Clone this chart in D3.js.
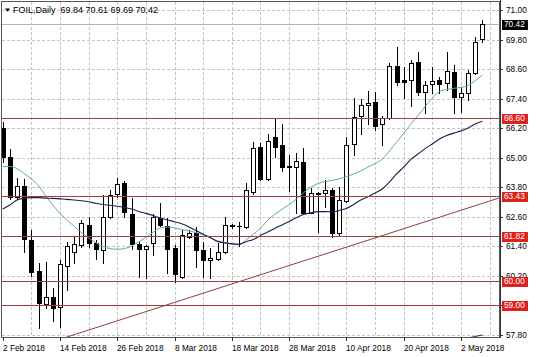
<!DOCTYPE html>
<html>
<head>
<meta charset="utf-8">
<script src="https://cdn.jsdelivr.net/npm/d3@7"></script>
<style>
  html, body { margin: 0; padding: 0; background: #fff; }
  svg { display: block; }
  text { font-family: "Liberation Sans", Arial, sans-serif; }
</style>
</head>
<body>
<div id="chart"></div>
<script>
// ---------------- DATA ----------------
const symbolTitle = "FOIL,Daily";
const headerValues = ["69.84", "70.61", "69.69", "70.42"];

const openP  = [66.21,65.04,63.39,63.85,61.66,60.41,59.06,59.33,58.92,60.60,61.18,61.45,62.27,61.55,61.25,62.58,63.53,63.99,62.71,61.50,61.28,61.52,62.54,62.23,61.32,60.17,61.79,61.93,61.25,60.85,60.87,61.18,62.25,62.24,62.20,63.62,65.45,64.12,65.83,65.52,64.65,64.61,64.84,62.77,63.56,63.58,63.69,61.93,63.24,65.56,66.69,67.14,67.28,66.37,66.60,68.73,68.16,68.16,68.90,67.68,67.99,68.16,68.02,68.49,67.45,67.64,68.43,69.84];
const highP  = [66.45,65.34,64.16,64.12,62.06,60.71,60.78,59.70,60.85,61.59,61.79,62.47,62.60,61.66,63.49,63.69,64.16,64.07,63.35,61.59,61.45,62.71,63.17,62.54,61.45,62.06,62.06,62.17,61.59,61.33,61.52,62.58,62.31,62.40,63.96,65.65,65.61,65.96,66.56,66.37,65.11,65.20,65.38,63.76,63.62,64.10,63.76,63.82,65.84,67.41,67.37,67.72,67.68,66.69,68.84,69.51,68.67,68.97,69.31,68.13,68.70,68.29,69.31,68.77,67.86,68.56,69.89,70.61];
const lowP   = [64.83,63.32,63.32,61.18,60.21,58.07,58.90,58.38,58.14,59.63,60.71,61.37,61.39,60.87,60.74,62.54,63.42,62.58,61.28,60.14,60.10,61.05,62.23,60.31,59.96,60.10,61.75,60.57,60.17,60.10,60.85,61.12,62.15,61.40,62.13,63.53,64.10,64.10,65.02,64.47,63.66,62.74,62.74,62.74,62.00,63.01,61.77,61.86,63.20,65.11,65.96,66.37,66.13,65.52,66.56,67.95,67.41,67.10,67.55,66.80,67.62,67.62,67.75,66.83,66.87,67.34,68.40,69.69];
const closeP = [65.03,63.39,63.85,61.69,60.37,59.09,59.33,58.88,60.68,61.41,61.48,62.34,61.52,61.28,62.58,63.49,63.93,62.81,61.50,61.28,61.41,62.58,62.27,61.28,60.28,61.86,61.93,61.25,60.85,60.94,61.18,62.27,62.23,62.22,63.69,65.38,64.12,65.69,65.45,64.61,64.62,64.88,62.77,63.55,63.54,63.69,61.93,63.28,65.52,66.67,67.14,67.23,66.29,66.60,68.73,68.09,68.09,68.86,67.68,67.95,68.13,67.99,68.53,67.45,67.64,68.45,69.71,70.42];

// fast moving average (teal), one value per bar
const maFast = [64.64,64.64,64.56,64.36,64.14,63.87,63.45,63.08,62.74,62.46,62.21,61.96,61.74,61.55,61.39,61.31,61.28,61.31,61.41,61.58,61.77,61.97,62.15,62.19,62.15,62.08,62.03,61.96,61.88,61.74,61.63,61.56,61.50,61.47,61.67,61.89,62.14,62.46,62.70,62.91,63.09,63.32,63.57,63.80,63.95,64.03,64.08,64.14,64.23,64.34,64.46,64.62,64.76,64.94,65.27,65.63,65.99,66.37,66.71,67.08,67.42,67.69,67.77,67.82,67.86,67.93,68.13,68.36];
// slow moving average (navy), one value per bar
const maSlow = [62.92,63.08,63.28,63.36,63.38,63.38,63.36,63.35,63.33,63.31,63.28,63.25,63.21,63.15,63.10,63.07,63.03,62.98,62.92,62.82,62.74,62.65,62.55,62.47,62.40,62.32,62.19,62.04,61.89,61.76,61.60,61.54,61.50,61.48,61.59,61.68,61.84,61.98,62.13,62.27,62.41,62.56,62.69,62.76,62.81,62.81,62.80,62.86,62.94,63.10,63.28,63.41,63.57,63.73,64.01,64.34,64.62,64.93,65.15,65.37,65.56,65.76,65.90,66.00,66.09,66.21,66.37,66.48];

const dateTickIndex = [0, 8, 16, 24, 32, 40, 48, 56, 64];
const dateTickLabels = ["2 Feb 2018","14 Feb 2018","26 Feb 2018","8 Mar 2018","18 Mar 2018","28 Mar 2018","10 Apr 2018","20 Apr 2018","2 May 2018"];
const priceTicks = [71.00, 69.80, 68.60, 67.40, 66.20, 65.00, 63.80, 62.60, 61.40, 60.20, 59.00, 57.80];
const levelPrices = [66.60, 63.43, 61.82, 60.00, 59.00];
const lastPrice = 70.42;
// trend line anchor points (bar index, price)
const trendIdx = [8.46, 69.18];
const trendPrice = [57.67, 63.35];
// short indicator fragment at bottom right
const tailIdx = [65.3, 67.0];
const tailPrice = [57.70, 57.80];

// ---------------- LAYOUT ----------------
const W = 536, H = 357;
const L = 2, R = 500, T = 2, B = 337;

const x = d3.scaleLinear().domain([0, 67]).range([2.7, 482.42]);
const y = d3.scaleLinear().domain([57.8, 71.0]).range([335, 10]);

const svg = d3.select("#chart").append("svg")
  .attr("width", W).attr("height", H)
  .attr("shape-rendering", "crispEdges");

svg.append("defs").append("clipPath").attr("id", "plotclip")
  .append("rect").attr("x", L).attr("y", T).attr("width", R - L).attr("height", B - T);

const plot = svg.append("g").attr("clip-path", "url(#plotclip)");

// grid
const gridIdx = d3.range(4, 70, 4);
plot.selectAll("line.vg").data(gridIdx).enter().append("line")
  .attr("x1", d => Math.round(x(d)) + 0.5).attr("x2", d => Math.round(x(d)) + 0.5)
  .attr("y1", T).attr("y2", B)
  .attr("stroke", "#c4c4c4").attr("stroke-dasharray", "3,2");
plot.selectAll("line.hg").data(priceTicks).enter().append("line")
  .attr("x1", L).attr("x2", R)
  .attr("y1", d => Math.round(y(d)) + 0.5).attr("y2", d => Math.round(y(d)) + 0.5)
  .attr("stroke", "#c4c4c4").attr("stroke-dasharray", "3,2");

// last price line
plot.append("line")
  .attr("x1", L).attr("x2", R)
  .attr("y1", Math.round(y(lastPrice)) + 0.5).attr("y2", Math.round(y(lastPrice)) + 0.5)
  .attr("stroke", "#b4b4b4");

// candles
const bars = d3.range(openP.length).map(i => ({i, o: openP[i], h: highP[i], l: lowP[i], c: closeP[i]}));
const cg = plot.append("g");
bars.forEach(d => {
  const cx = Math.round(x(d.i));
  cg.append("line")
    .attr("x1", cx + 0.5).attr("x2", cx + 0.5)
    .attr("y1", Math.round(y(d.h))).attr("y2", Math.round(y(d.l)) + 1)
    .attr("stroke", "#000");
  const yTop = Math.round(y(Math.max(d.o, d.c)));
  const yBot = Math.round(y(Math.min(d.o, d.c)));
  if (yBot - yTop < 1) {
    cg.append("line")
      .attr("x1", cx - 2).attr("x2", cx + 3)
      .attr("y1", yTop + 0.5).attr("y2", yTop + 0.5)
      .attr("stroke", "#000");
  } else {
    cg.append("rect")
      .attr("x", cx - 1.5).attr("y", yTop + 0.5)
      .attr("width", 4).attr("height", yBot - yTop)
      .attr("fill", d.c >= d.o ? "#fff" : "#000")
      .attr("stroke", "#000");
  }
});

// moving averages
const lineGen = d3.line().x((d, i) => x(i)).y(d => y(d)).curve(d3.curveMonotoneX);
plot.append("path").datum(maFast).attr("d", lineGen)
  .attr("fill", "none").attr("stroke", "#5fa9ad").attr("stroke-width", 1)
  .attr("shape-rendering", "geometricPrecision");
plot.append("path").datum(maSlow).attr("d", lineGen)
  .attr("fill", "none").attr("stroke", "#1b1f4f").attr("stroke-width", 1.1)
  .attr("shape-rendering", "geometricPrecision");

// horizontal levels
plot.selectAll("line.lvl").data(levelPrices).enter().append("line")
  .attr("x1", L).attr("x2", R)
  .attr("y1", d => Math.round(y(d)) + 0.5).attr("y2", d => Math.round(y(d)) + 0.5)
  .attr("stroke", "#a3403f");

// trend line (extended across plot)
const slope = (trendPrice[1] - trendPrice[0]) / (trendIdx[1] - trendIdx[0]);
const tStart = trendIdx[0], tEnd = 70;
plot.append("line")
  .attr("x1", x(tStart)).attr("y1", y(trendPrice[0]))
  .attr("x2", x(tEnd)).attr("y2", y(trendPrice[0] + slope * (tEnd - tStart)))
  .attr("stroke", "#963848").attr("stroke-width", 1)
  .attr("shape-rendering", "geometricPrecision");

// tail fragment
plot.append("line")
  .attr("x1", x(tailIdx[0])).attr("y1", y(tailPrice[0]))
  .attr("x2", x(tailIdx[1])).attr("y2", y(tailPrice[1]))
  .attr("stroke", "#333").attr("shape-rendering", "geometricPrecision");

// frame
svg.append("rect").attr("x", 1.5).attr("y", 1.5).attr("width", R - 1.5 + 0.5 - 1).attr("height", B - 1.5)
  .attr("fill", "none").attr("stroke", "#555");
svg.append("line").attr("x1", R + 0.5).attr("x2", R + 0.5).attr("y1", 0).attr("y2", B + 1)
  .attr("stroke", "#333");

// right axis ticks & labels (labels hidden behind a level box are skipped)
const ay = svg.append("g");
priceTicks.forEach(p => {
  const yy = Math.round(y(p)) + 0.5;
  ay.append("line").attr("x1", R).attr("x2", R + 3).attr("y1", yy).attr("y2", yy).attr("stroke", "#333");
  if (levelPrices.some(lv => Math.abs(y(lv) - y(p)) < 3)) return;
  ay.append("text").attr("x", 506).attr("y", yy).attr("dy", "0.35em")
    .attr("font-size", "8.3px").attr("fill", "#000").text(p.toFixed(2));
});

// level labels
levelPrices.forEach(p => {
  const yy = Math.round(y(p));
  ay.append("rect").attr("x", 502).attr("y", yy - 4.5).attr("width", 26).attr("height", 10).attr("fill", "#e0201c");
  ay.append("text").attr("x", 504).attr("y", yy + 0.5).attr("dy", "0.35em")
    .attr("font-size", "8.3px").attr("fill", "#fff").text(p.toFixed(2));
});
{
  const yy = Math.round(y(lastPrice));
  ay.append("rect").attr("x", 502).attr("y", yy - 4.5).attr("width", 26).attr("height", 10).attr("fill", "#000");
  ay.append("text").attr("x", 504).attr("y", yy + 0.5).attr("dy", "0.35em")
    .attr("font-size", "8.3px").attr("fill", "#fff").text(lastPrice.toFixed(2));
}

// bottom axis
const ax = svg.append("g");
dateTickIndex.forEach((idx, k) => {
  const xx = Math.round(x(idx)) + 0.5;
  ax.append("line").attr("x1", xx).attr("x2", xx).attr("y1", B).attr("y2", B + 4).attr("stroke", "#333");
  ax.append("text").attr("x", Math.round(x(idx))).attr("y", 350.5)
    .attr("font-size", "8.3px").attr("fill", "#000").text(dateTickLabels[k]);
});

// header
svg.append("path").attr("d", "M5,8.5 L10,8.5 L7.5,11.8 Z").attr("fill", "#000")
  .attr("shape-rendering", "geometricPrecision");
svg.append("text").attr("x", 13).attr("y", 13.3).attr("font-size", "9px").attr("fill", "#000")
  .style("white-space", "pre")
  .text(symbolTitle + "  " + headerValues.join(" "));
</script>
</body>
</html>
